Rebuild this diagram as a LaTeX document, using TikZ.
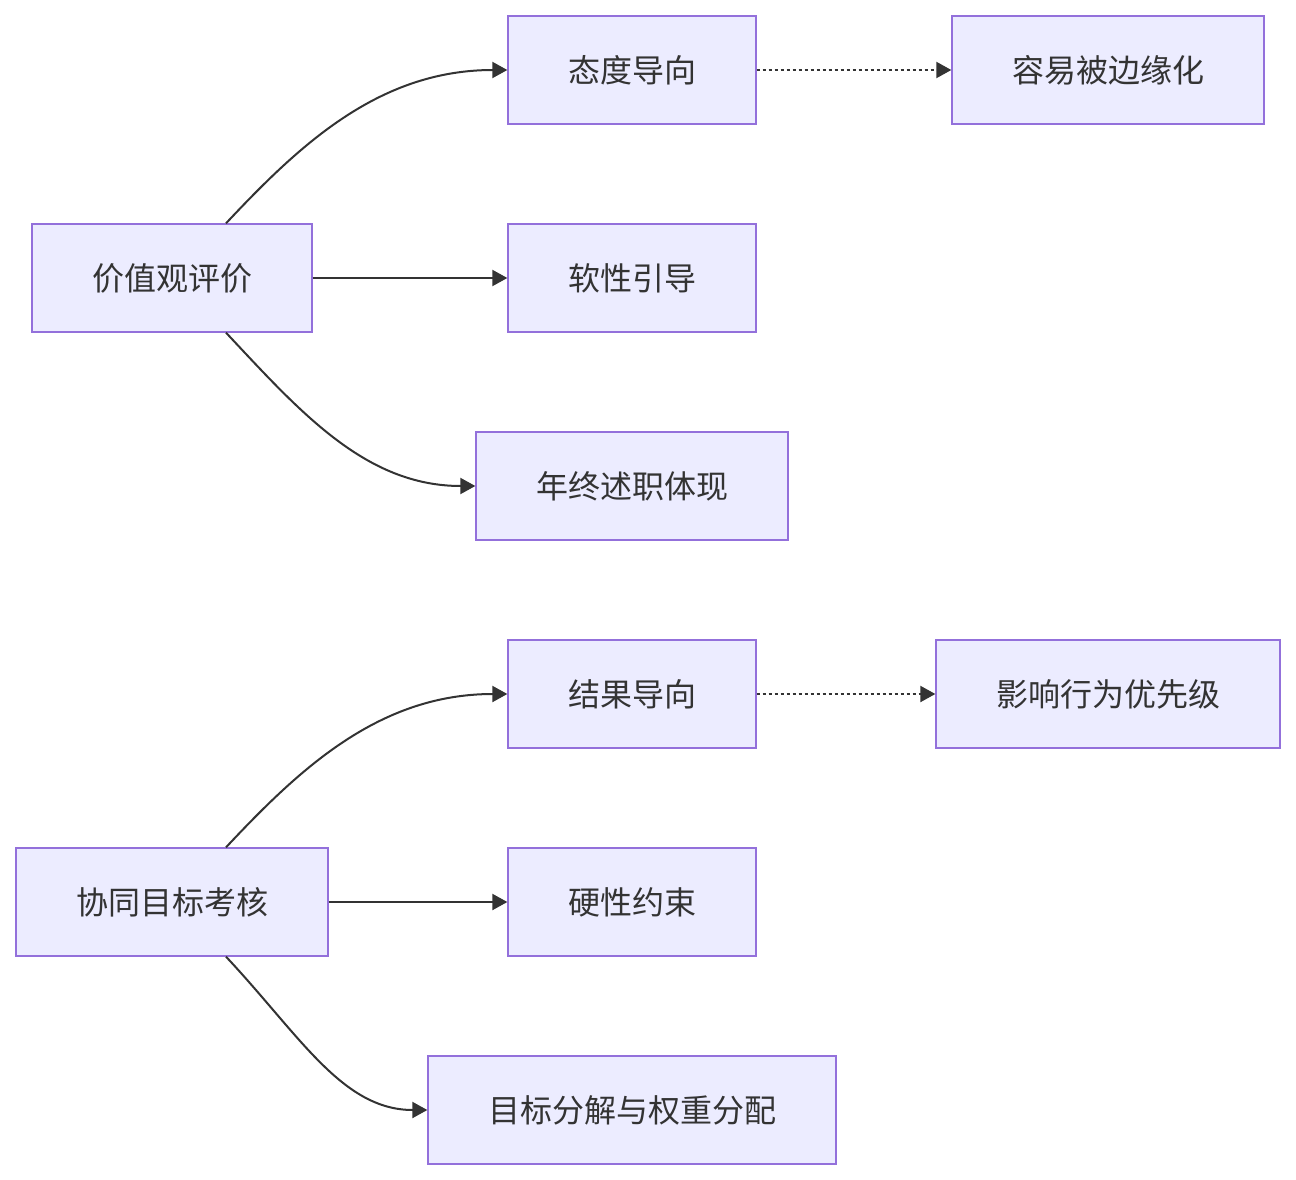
\documentclass[tikz,border=0pt]{standalone}
\usepackage{fontspec}
\newfontfamily\cjk{Noto Sans CJK SC}
\usetikzlibrary{arrows.meta,positioning}
\definecolor{boxfill}{HTML}{ECECFF}
\definecolor{boxline}{HTML}{9370DB}
\definecolor{ink}{HTML}{333333}

\begin{document}
\begin{tikzpicture}[
    x=1pt,
    y=-1pt,
    box/.style={draw=boxline, fill=boxfill, line width=1.3pt, minimum height=108pt, inner sep=0pt, text=ink, font=\cjk\fontsize{32}{38}\selectfont},
    link/.style={draw=ink, line width=2pt, -{Triangle[length=15pt,width=16pt]}},
    weak/.style={link, dash pattern=on 3pt off 3pt}
  ]
    \useasboundingbox (0,0) rectangle (1296,1180);

    % Values
    \node[box, minimum width=280pt] (values) at (172,278) {价值观评价};
    \node[box, minimum width=248pt] (attitude) at (632,70) {态度导向};
    \node[box, minimum width=312pt] (margin) at (1108,70) {容易被边缘化};
    \node[box, minimum width=248pt] (soft) at (632,278) {软性引导};
    \node[box, minimum width=312pt] (review) at (632,486) {年终述职体现};
    \draw[link] ([xshift=54pt]values.north) .. controls +(74,-79) and +(-128,0) .. (attitude.west);
    \draw[link] (values.east) -- (soft.west);
    \draw[link] ([xshift=54pt]values.south) .. controls +(74,79) and +(-110,0) .. (review.west);
    \draw[weak] (attitude.east) -- (margin.west);

    % Goals
    \node[box, minimum width=312pt] (goals) at (172,902) {协同目标考核};
    \node[box, minimum width=248pt] (result) at (632,694) {结果导向};
    \node[box, minimum width=344pt] (priority) at (1108,694) {影响行为优先级};
    \node[box, minimum width=248pt] (hard) at (632,902) {硬性约束};
    \node[box, minimum width=408pt] (split) at (632,1110) {目标分解与权重分配};
    \draw[link] ([xshift=54pt]goals.north) .. controls +(74,-79) and +(-128,0) .. (result.west);
    \draw[link] (goals.east) -- (hard.west);
    \draw[link] ([xshift=54pt]goals.south) .. controls +(74,79) and +(-85,0) .. (split.west);
    \draw[weak] (result.east) -- (priority.west);
  \end{tikzpicture}
\end{document}
